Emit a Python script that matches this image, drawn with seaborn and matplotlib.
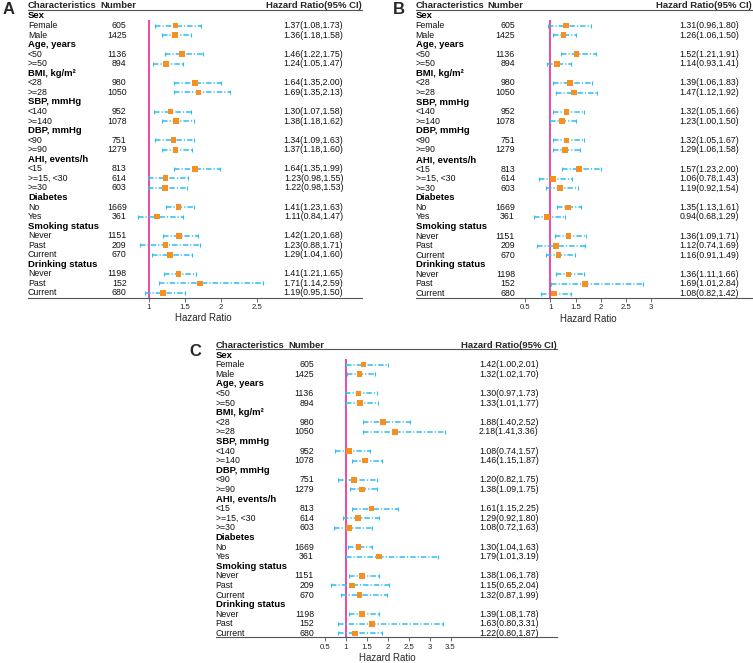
import numpy as np
import pandas as pd
import matplotlib
matplotlib.use("Agg")
import matplotlib.pyplot as plt
import seaborn as sns

# ---- data ----
groups = ["Sex", "Age, years", "BMI, kg/m²", "SBP, mmHg", "DBP, mmHg",
          "AHI, events/h", "Diabetes", "Smoking status", "Drinking status"]
subgroups = [["Female", "Male"], ["<50", ">=50"], ["<28", ">=28"],
             ["<140", ">=140"], ["<90", ">=90"], ["<15", ">=15, <30", ">=30"],
             ["No", "Yes"], ["Never", "Past", "Current"], ["Never", "Past", "Current"]]
numbers = [605, 1425, 1136, 894, 980, 1050, 952, 1078, 751, 1279,
           813, 614, 603, 1669, 361, 1151, 209, 670, 1198, 152, 680]

hr_a = [1.37, 1.36, 1.46, 1.24, 1.64, 1.69, 1.30, 1.38, 1.34, 1.37,
        1.64, 1.23, 1.22, 1.41, 1.11, 1.42, 1.23, 1.29, 1.41, 1.71, 1.19]
lo_a = [1.08, 1.18, 1.22, 1.05, 1.35, 1.35, 1.07, 1.18, 1.09, 1.18,
        1.35, 0.98, 0.98, 1.23, 0.84, 1.20, 0.88, 1.04, 1.21, 1.14, 0.95]
hi_a = [1.73, 1.58, 1.75, 1.47, 2.00, 2.13, 1.58, 1.62, 1.63, 1.60,
        1.99, 1.55, 1.53, 1.63, 1.47, 1.68, 1.71, 1.60, 1.65, 2.59, 1.50]

hr_b = [1.31, 1.26, 1.52, 1.14, 1.39, 1.47, 1.32, 1.23, 1.32, 1.29,
        1.57, 1.06, 1.19, 1.35, 0.94, 1.36, 1.12, 1.16, 1.36, 1.69, 1.08]
lo_b = [0.96, 1.06, 1.21, 0.93, 1.06, 1.12, 1.05, 1.00, 1.05, 1.06,
        1.23, 0.78, 0.92, 1.13, 0.68, 1.09, 0.74, 0.91, 1.11, 1.01, 0.82]
hi_b = [1.80, 1.50, 1.91, 1.41, 1.83, 1.92, 1.66, 1.50, 1.67, 1.58,
        2.00, 1.43, 1.54, 1.61, 1.29, 1.71, 1.69, 1.49, 1.66, 2.84, 1.42]

hr_c = [1.42, 1.32, 1.30, 1.33, 1.88, 2.18, 1.08, 1.46, 1.20, 1.38,
        1.61, 1.29, 1.08, 1.30, 1.79, 1.38, 1.15, 1.32, 1.39, 1.63, 1.22]
lo_c = [1.00, 1.02, 0.97, 1.01, 1.40, 1.41, 0.74, 1.15, 0.82, 1.09,
        1.15, 0.92, 0.72, 1.04, 1.01, 1.06, 0.65, 0.87, 1.08, 0.80, 0.80]
hi_c = [2.01, 1.70, 1.73, 1.77, 2.52, 3.36, 1.57, 1.87, 1.75, 1.75,
        2.25, 1.80, 1.63, 1.63, 3.19, 1.78, 2.04, 1.99, 1.78, 3.31, 1.87]

ticks_a = [1, 1.5, 2, 2.5]
ticks_b = [0.5, 1, 1.5, 2, 2.5, 3]
ticks_c = [0.5, 1, 1.5, 2, 2.5, 3, 3.5]

# ---- style ----
sns.set_theme(style="white")
plt.rcParams["font.family"] = ["Liberation Sans", "DejaVu Sans"]

W, H = 753, 663
CI_COLOR = "#2EBDF3"
PT_COLOR = "#F7901E"
REF_COLOR = "#EC168C"
LINE_COLOR = "#555555"

# table rows: (label, bold, index into data or None)
rows = []
k = 0
for g, subs in zip(groups, subgroups):
    rows.append((g, True, None))
    for s in subs:
        rows.append((s, False, k))
        k += 1


def draw_panel(fig, letter, hr, lo, hi, ticks, lay):
    x2d = lambda p: 1 + (p - lay["x1"]) / lay["ppu"]
    y2r = lambda p: (p - lay["row0"]) / lay["step"]

    ax = fig.add_axes([lay["left"] / W, 1 - lay["bottom"] / H,
                       (lay["right"] - lay["left"]) / W,
                       (lay["bottom"] - lay["top"]) / H])

    df = pd.DataFrame({
        "row": [i for i, r in enumerate(rows) if r[2] is not None],
        "hr": hr, "lo": lo, "hi": hi, "n": numbers,
    })

    ylo, yhi = y2r(lay["bottom"]), y2r(lay["top"])

    # reference line at HR = 1
    ax.vlines(1, 0.45, ylo, color=REF_COLOR, lw=1.1, zorder=1)

    # confidence intervals
    ax.hlines(df["row"], df["lo"], df["hi"], colors=CI_COLOR, lw=1.1,
              linestyles=[(0, (3.6, 1.3, 0.8, 1.3))], zorder=2)
    ax.plot(df["lo"], df["row"], ls="", marker="|", ms=3, mew=0.8,
            color=CI_COLOR, zorder=2)
    ax.plot(df["hi"], df["row"], ls="", marker="|", ms=3, mew=0.8,
            color=CI_COLOR, zorder=2)

    # point estimates
    sns.scatterplot(data=df, x="hr", y="row", marker="s", s=17,
                    color=PT_COLOR, edgecolor="none", linewidth=0,
                    ax=ax, zorder=3)

    ax.set_xlim(x2d(lay["left"]), x2d(lay["right"]))
    ax.set_ylim(ylo, yhi)
    ax.set_xlabel("")
    ax.set_ylabel("")
    ax.set_yticks([])
    ax.set_xticks(ticks)
    ax.set_xticklabels([f"{t:g}" for t in ticks])
    ax.tick_params(axis="x", bottom=True, direction="out", length=3,
                   width=0.6, color=LINE_COLOR, labelsize=5.6, pad=1.5)
    for side in ["left", "right"]:
        ax.spines[side].set_visible(False)
    for side in ["top", "bottom"]:
        ax.spines[side].set_color(LINE_COLOR)
        ax.spines[side].set_linewidth(0.8)

    # table text
    xl = x2d(lay["left"])
    for i, (lab, bold, idx) in enumerate(rows):
        if bold:
            ax.text(xl, i, lab, ha="left", va="center", fontsize=6.8,
                    fontweight="bold", color="black")
        else:
            ax.text(xl, i, lab, ha="left", va="center", fontsize=6.3,
                    color="#111111")
            ax.text(x2d(lay["num_right"]), i, str(numbers[idx]), ha="right",
                    va="center", fontsize=6.3, color="#111111")
            ax.text(x2d(lay["hr_right"]), i,
                    f"{hr[idx]:.2f}({lo[idx]:.2f},{hi[idx]:.2f})",
                    ha="right", va="center", fontsize=6.3, color="#111111")

    yh = y2r(lay["head"])
    ax.text(xl, yh, "Characteristics", ha="left", va="center",
            fontsize=6.8, fontweight="bold")
    ax.text(x2d(lay["num_head"]), yh, "Number", ha="left", va="center",
            fontsize=6.8, fontweight="bold")
    ax.text(x2d(lay["right"]), yh, "Hazard Ratio(95% CI)", ha="right",
            va="center", fontsize=6.8, fontweight="bold")

    ax.annotate("Hazard Ratio", xy=(np.mean(ticks), 0),
                xycoords=("data", "axes fraction"), xytext=(0, -15),
                textcoords="offset points", ha="center", va="center",
                fontsize=7)

    fig.text(lay["lx"] / W, 1 - lay["ly"] / H, letter, ha="center",
             va="center", fontsize=12, fontweight="bold")
    return ax


fig = plt.figure(figsize=(W / 100, H / 100), dpi=100)

lay_a = dict(left=28, right=362, x1=149, ppu=71.8, num_right=126.7,
             num_head=100.7, hr_right=343.3, head=6, top=10.3, bottom=297.5,
             row0=16, step=9.55, lx=8.5, ly=9.5)
lay_b = dict(left=415.7, right=752, x1=550.3, ppu=50.4, num_right=515,
             num_head=487.7, hr_right=739, head=6, top=10.3, bottom=297.8,
             row0=16, step=9.57, lx=399, ly=9.5)
lay_c = dict(left=215.7, right=556.7, x1=346, ppu=41.8, num_right=314,
             num_head=288.3, hr_right=538.7, head=345, top=349.3,
             bottom=637.3, row0=355, step=9.6, lx=195, ly=351.7)

draw_panel(fig, "A", hr_a, lo_a, hi_a, ticks_a, lay_a)
draw_panel(fig, "B", hr_b, lo_b, hi_b, ticks_b, lay_b)
draw_panel(fig, "C", hr_c, lo_c, hi_c, ticks_c, lay_c)

fig.savefig("out.png", dpi=100, facecolor="white")
